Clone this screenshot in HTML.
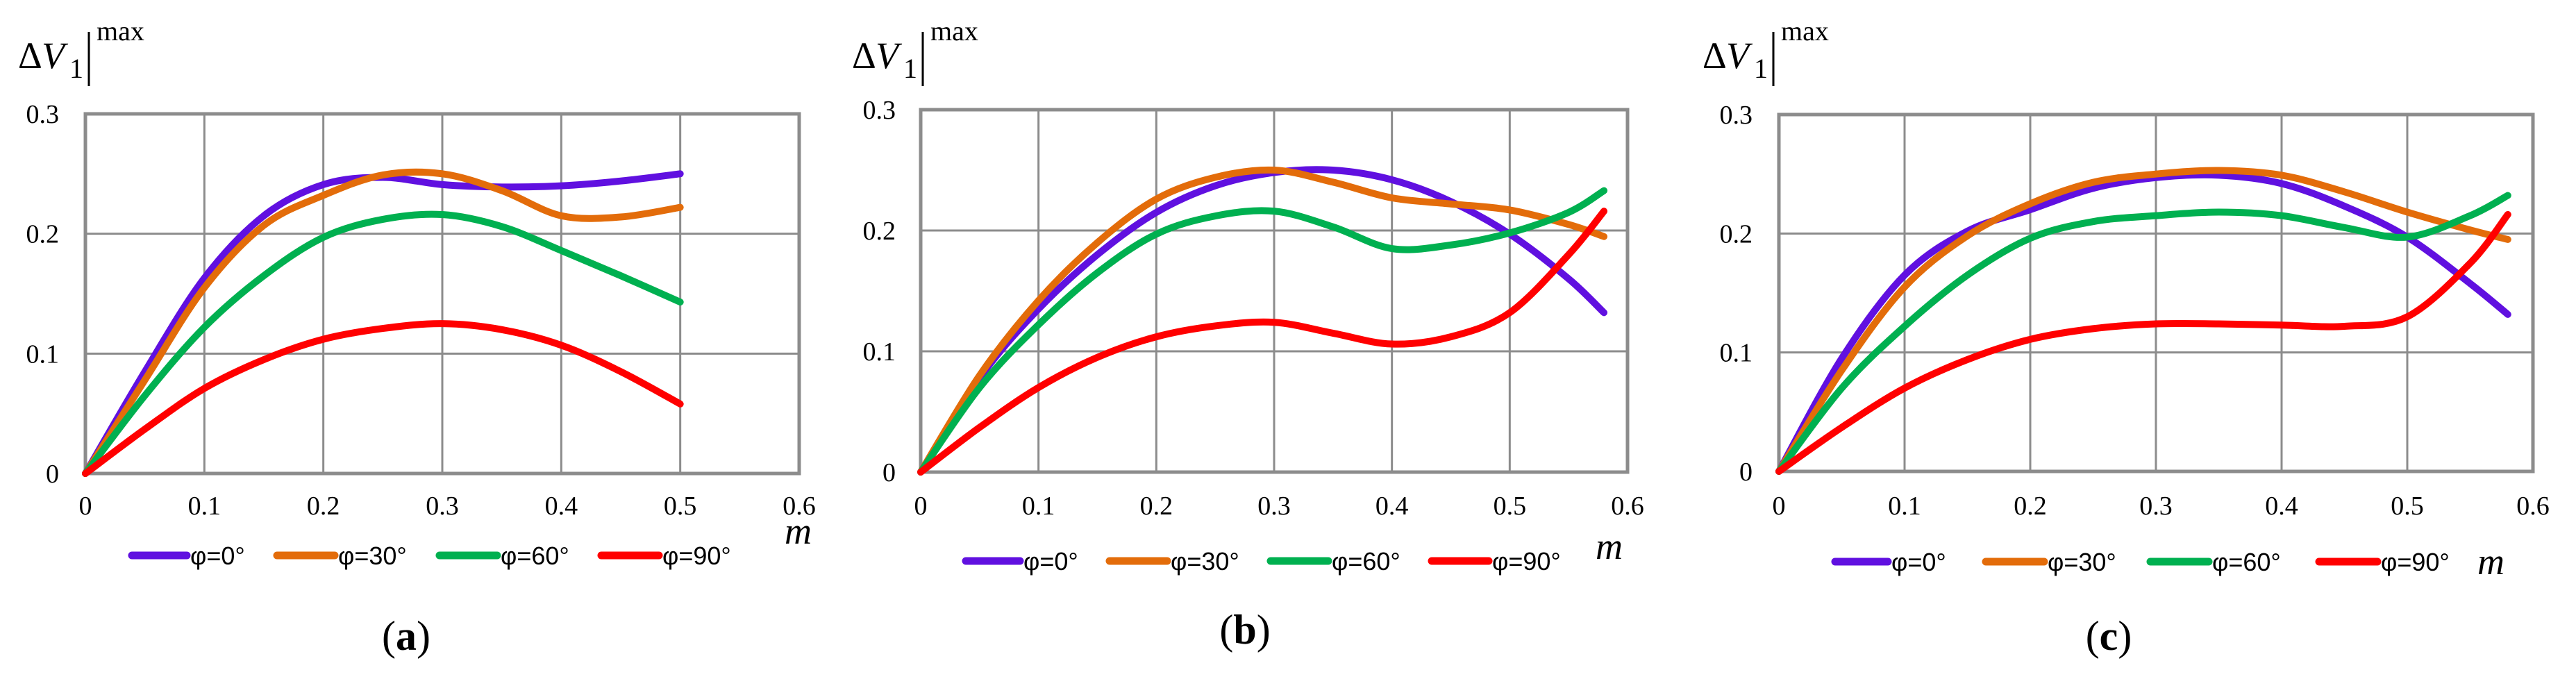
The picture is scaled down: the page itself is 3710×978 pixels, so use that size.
<!DOCTYPE html>
<html><head><meta charset="utf-8"><style>
html,body{margin:0;padding:0;background:#fff;}
svg{display:block}
text{font-family:"Liberation Serif",serif;}
.leg{font-family:"Liberation Sans",sans-serif;font-size:36px;}
</style></head>
<body>
<svg id="fig" width="3710" height="978" viewBox="0 0 3710 978"></svg>
<script>
const seriesNames = ["φ=0°","φ=30°","φ=60°","φ=90°"];
const seriesColors = ["#6010e0","#e36c0a","#00b050","#ff0000"];
const xTicks = [0,0.1,0.2,0.3,0.4,0.5,0.6];
const yTicks = [0,0.1,0.2,0.3];
const panelLabels = ["a","b","c"];
const xA = [0,0.05,0.1,0.15,0.2,0.25,0.3,0.35,0.4,0.45,0.5];
const a0 = [0,0.085,0.163,0.215,0.241,0.247,0.241,0.239,0.240,0.244,0.250];
const a30 = [0,0.078,0.155,0.207,0.232,0.249,0.250,0.236,0.215,0.214,0.222];
const a60 = [0,0.065,0.122,0.165,0.197,0.212,0.216,0.206,0.186,0.165,0.143];
const a90 = [0,0.037,0.071,0.095,0.112,0.121,0.125,0.120,0.107,0.085,0.058];
const xB = [0,0.05,0.1,0.15,0.2,0.25,0.3,0.35,0.4,0.45,0.5,0.55,0.58];
const b0 = [0,0.078,0.135,0.180,0.215,0.237,0.248,0.250,0.242,0.224,0.197,0.160,0.132];
const b30 = [0,0.080,0.142,0.190,0.226,0.244,0.250,0.240,0.227,0.222,0.217,0.205,0.195];
const b60 = [0,0.070,0.122,0.165,0.197,0.212,0.216,0.203,0.185,0.188,0.198,0.215,0.233];
const b90 = [0,0.037,0.070,0.095,0.112,0.121,0.124,0.115,0.106,0.112,0.132,0.180,0.216];
const xC = [0,0.05,0.1,0.15,0.2,0.25,0.3,0.35,0.4,0.45,0.5,0.55,0.58];
const c0 = [0,0.095,0.165,0.202,0.220,0.238,0.247,0.249,0.242,0.223,0.197,0.158,0.132];
const c30 = [0,0.085,0.155,0.198,0.225,0.243,0.250,0.253,0.249,0.235,0.218,0.203,0.195];
const c60 = [0,0.070,0.122,0.165,0.196,0.210,0.215,0.218,0.215,0.205,0.197,0.215,0.232];
const c90 = [0,0.037,0.070,0.094,0.111,0.120,0.124,0.124,0.123,0.122,0.130,0.175,0.216];

const panels = [
 {L:123,R:1151,T:164,B:682,yl:85,xs:xA,ys:[a0,a30,a60,a90],leg:[[190,269],[399,482],[633,716],[866,949]],legY:800,m:[1130,783],lab:[585,914],tx:26},
 {L:1326,R:2344,T:158,B:680,yl:1290,xs:xB,ys:[b0,b30,b60,b90],leg:[[1391,1469],[1598,1681],[1830,1913],[2062,2144]],legY:808,m:[2298,805],lab:[1793,905],tx:1227},
 {L:2562,R:3648,T:165,B:679,yl:2524,xs:xC,ys:[c0,c30,c60,c90],leg:[[2643,2719],[2860,2944],[3097,3181],[3340,3424]],legY:809,m:[3568,827],lab:[3037,914],tx:2452}
];
const NS="http://www.w3.org/2000/svg";
const svg=document.getElementById('fig');
function mk(tag,attrs,parent,txt){const e=document.createElementNS(NS,tag);for(const k in attrs)e.setAttribute(k,attrs[k]);if(txt!==undefined)e.textContent=txt;(parent||svg).appendChild(e);return e;}
function smooth(pts){let d="M"+pts[0][0]+","+pts[0][1];for(let i=0;i<pts.length-1;i++){const p0=pts[Math.max(i-1,0)],p1=pts[i],p2=pts[i+1],p3=pts[Math.min(i+2,pts.length-1)];const c1=[p1[0]+(p2[0]-p0[0])/6,p1[1]+(p2[1]-p0[1])/6];const c2=[p2[0]-(p3[0]-p1[0])/6,p2[1]-(p3[1]-p1[1])/6];d+=" C"+c1[0]+","+c1[1]+" "+c2[0]+","+c2[1]+" "+p2[0]+","+p2[1];}return d;}
panels.forEach((p,pi)=>{
 const g=mk('g',{});
 
 
 const X=v=>p.L+(p.R-p.L)*v/0.6, Y=v=>p.B-(p.B-p.T)*v/0.3;
 xTicks.forEach(t=>{if(t>0&&t<0.6){const l=mk('line',{x1:X(t),x2:X(t),y1:p.T,y2:p.B,stroke:'#8c8c8c','stroke-width':3},g);}
  const tx=mk('text',{x:X(t),y:741,'font-size':38,'text-anchor':'middle'},g,String(t));});
 yTicks.forEach(t=>{if(t>0&&t<0.3){const l=mk('line',{x1:p.L,x2:p.R,y1:Y(t),y2:Y(t),stroke:'#8c8c8c','stroke-width':3},g);}
  const tx=mk('text',{x:p.yl,y:Y(t)+13,'font-size':38,'text-anchor':'end'},g,String(t));});
 const fr=mk('rect',{x:p.L,y:p.T,width:p.R-p.L,height:p.B-p.T,fill:'none',stroke:'#8c8c8c','stroke-width':5},g);
 
 p.ys.forEach((ser,si)=>{const pts=p.xs.map((x,i)=>[X(x),Y(ser[i])]);
  const path=mk('path',{d:smooth(pts),fill:'none',stroke:seriesColors[si],'stroke-width':10,'stroke-linecap':'round','stroke-linejoin':'round'},g);
  
  });
 p.leg.forEach((lx,si)=>{const lg=mk('g',{},g);
  
  
  mk('line',{x1:lx[0],x2:lx[1],y1:p.legY,y2:p.legY,stroke:seriesColors[si],'stroke-width':11,'stroke-linecap':'round'},lg);
  mk('text',{x:lx[1]+5,y:p.legY+13,class:'leg'},lg,seriesNames[si]);});
 const m=mk('text',{x:p.m[0],y:p.m[1],'font-size':54,'font-style':'italic'},g,'m');
 
 const lab=mk('text',{x:p.lab[0],y:p.lab[1]+22,'font-size':60,'text-anchor':'middle'},g);
 
 mk('tspan',{},lab,'(');mk('tspan',{'font-weight':'bold'},lab,panelLabels[pi]);mk('tspan',{},lab,')');
 const yt=mk('g',{},g);
 
 mk('text',{x:p.tx,y:98,'font-size':54},yt,'Δ');
 mk('text',{x:p.tx+34,y:98,'font-size':54,'font-style':'italic'},yt,'V');
 mk('text',{x:p.tx+74,y:112,'font-size':40},yt,'1');
 mk('line',{x1:p.tx+102,x2:p.tx+102,y1:46,y2:124,stroke:'#000','stroke-width':3},yt);
 mk('text',{x:p.tx+113,y:58,'font-size':40},yt,'max');
});
</script>
</body></html>
